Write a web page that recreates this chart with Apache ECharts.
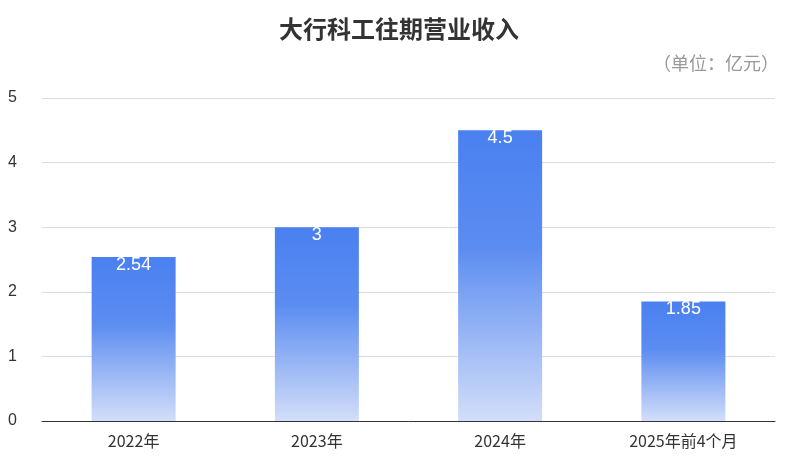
<!DOCTYPE html>
<html><head><meta charset="utf-8">
<script src="https://cdn.jsdelivr.net/npm/echarts@6/dist/echarts.min.js"></script>
<style>html,body{margin:0;padding:0;background:#fff}#c{width:798px;height:472px}</style>
</head><body><div id="c"></div>
<script>
const categories = ['2022年','2023年','2024年','2025年前4个月'];
const revenue = [2.54, 3, 4.5, 1.85];
const chart = echarts.init(document.getElementById('c'));
chart.setOption({
  animation:false,
  title:[{text:'大行科工往期营业收入',left:'center',top:12,textStyle:{fontSize:24,fontWeight:'bold',color:'#333',fontFamily:'Noto Sans CJK SC'}},
         {text:'（单位：亿元）',right:14,top:49,textStyle:{fontSize:18,fontWeight:'normal',color:'#999',fontFamily:'Noto Sans CJK SC'}}],
  grid:{left:42,right:23,top:98,bottom:51},
  xAxis:{type:'category',data:categories,axisTick:{show:false},axisLine:{lineStyle:{color:'#333'}},
    axisLabel:{fontSize:16,color:'#333',margin:12,fontFamily:'Noto Sans CJK SC'}},
  yAxis:{type:'value',min:0,max:5,interval:1,axisLabel:{fontSize:16,color:'#333',margin:25},
    splitLine:{lineStyle:{color:'#ddd'}}},
  series:[{type:'bar',data:revenue,barWidth:84,
    itemStyle:{color:new echarts.graphic.LinearGradient(0,0,0,1,[{offset:0,color:'#4a80f0'},{offset:0.4,color:'#5b8cf1'},{offset:1,color:'#d3def9'}])},
    label:{show:true,position:'insideTop',offset:[0,-6],color:'#fff',fontSize:18}}]
});
</script></body></html>
